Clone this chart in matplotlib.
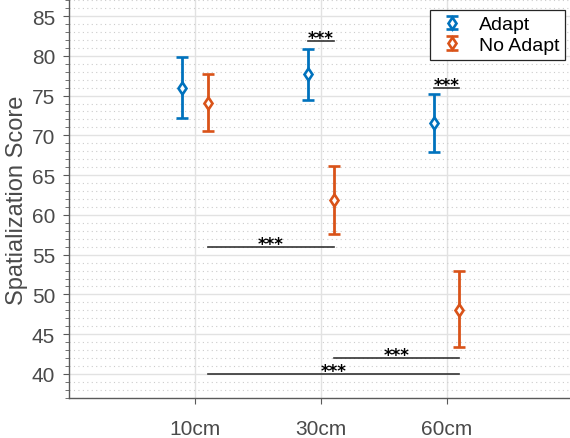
import numpy as np
import matplotlib
matplotlib.use('Agg')
import matplotlib.pyplot as plt
from matplotlib.ticker import MultipleLocator
from matplotlib.legend_handler import HandlerErrorbar
from matplotlib.container import ErrorbarContainer

plt.rcParams['font.family'] = ['Liberation Sans', 'DejaVu Sans']

# data
conditions = ['10cm', '30cm', '60cm']
adapt_mean = [75.9, 77.7, 71.6]
adapt_lo = [72.2, 74.5, 67.9]
adapt_hi = [79.8, 80.8, 75.2]
noadapt_mean = [74.1, 61.9, 48.1]
noadapt_lo = [70.5, 57.6, 43.4]
noadapt_hi = [77.7, 66.1, 52.9]

# significance bars: (x1, x2, y)
sig_bars = [(1.9, 2.1, 81.9), (2.9, 3.1, 76.0), (1.1, 2.1, 56.0),
            (2.1, 3.1, 42.0), (1.1, 3.1, 40.0)]

blue = '#0072BD'
orange = '#D95319'
grey = '#333333'

fig = plt.figure(figsize=(5.7, 4.39), dpi=100)
ax = fig.add_axes([0.121, 0.0915, 0.884, 0.906])

x = np.arange(1, len(conditions) + 1)
a_err = [np.array(adapt_mean) - np.array(adapt_lo), np.array(adapt_hi) - np.array(adapt_mean)]
n_err = [np.array(noadapt_mean) - np.array(noadapt_lo), np.array(noadapt_hi) - np.array(noadapt_mean)]

style = dict(fmt='d', mfc='white', mew=1.9, ms=6, elinewidth=2.0, capsize=4, capthick=2.0, zorder=3)
ax.errorbar(x - 0.1, adapt_mean, yerr=a_err, color=blue, label='Adapt', **style)
ax.errorbar(x + 0.1, noadapt_mean, yerr=n_err, color=orange, label='No Adapt', **style)

for x1, x2, y in sig_bars:
    ax.plot([x1, x2], [y, y], color=grey, lw=1.2, zorder=2)
    ax.text((x1 + x2) / 2, y - 0.25, '***', ha='center', va='baseline',
            fontsize=12, fontweight='bold', color='black', family='DejaVu Sans')

ax.set_xlim(0, 4)
ax.set_ylim(37, 87)
ax.set_xticks(x)
ax.set_xticklabels(conditions)
ax.yaxis.set_minor_locator(MultipleLocator(1))
ax.set_yticks(np.arange(40, 86, 5))

ax.grid(True, which='major', color='#e2e2e2', lw=1.0)
ax.grid(True, which='minor', axis='y', color='#cccccc', lw=0.8, ls=(0, (1, 3)))
ax.set_axisbelow(True)

for s in ['top', 'right']:
    ax.spines[s].set_visible(False)
for s in ['left', 'bottom']:
    ax.spines[s].set_color('#5a5a5a')
    ax.spines[s].set_linewidth(1.0)

ax.tick_params(axis='both', which='major', direction='out', length=4, colors='#5a5a5a',
               labelsize=15, labelcolor='#4a4a4a')
ax.tick_params(axis='x', which='major', pad=11)
ax.tick_params(axis='y', which='major', pad=6)
ax.tick_params(axis='y', which='minor', direction='out', length=3, colors='#5a5a5a')
ax.set_ylabel('Spatialization Score', fontsize=17, color='#4a4a4a', labelpad=3)

leg = ax.legend(loc='upper right', bbox_to_anchor=(0.993, 0.985), fontsize=14,
                frameon=True, fancybox=False, edgecolor='#262626', framealpha=1,
                borderpad=0.3, handletextpad=0.6, handlelength=1.6, labelspacing=0.15,
                borderaxespad=0.2,
                handler_map={ErrorbarContainer: HandlerErrorbar(yerr_size=0.35)})
leg.get_frame().set_linewidth(0.9)

fig.savefig('out.png', dpi=100)
